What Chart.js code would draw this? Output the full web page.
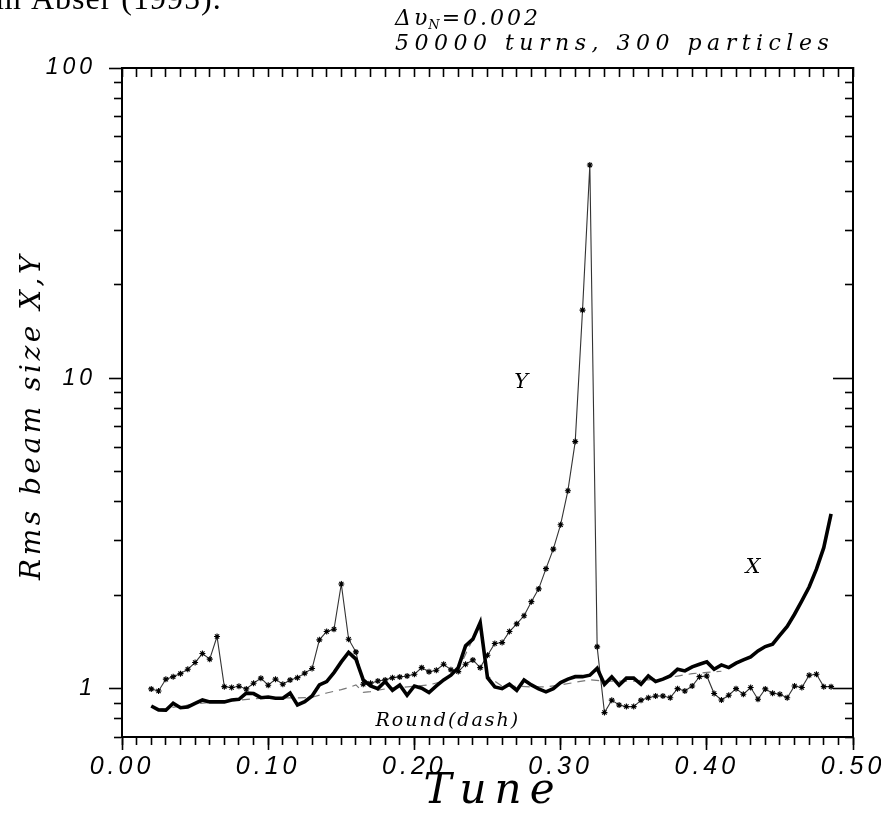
<!DOCTYPE html>
<html><head><meta charset="utf-8">
<script src="https://cdn.jsdelivr.net/npm/chart.js@4"></script>
<style>html,body{margin:0;padding:0;background:#fff;}canvas{display:block;}</style>
</head><body>
<canvas id="c" width="881" height="813"></canvas>
<script>
// ---------- data ----------
const tune = [0.020,0.025,0.030,0.035,0.040,0.045,0.050,0.055,0.060,0.065,
 0.070,0.075,0.080,0.085,0.090,0.095,0.100,0.105,0.110,0.115,
 0.120,0.125,0.130,0.135,0.140,0.145,0.150,0.155,0.160,0.165,
 0.170,0.175,0.180,0.185,0.190,0.195,0.200,0.205,0.210,0.215,
 0.220,0.225,0.230,0.235,0.240,0.245,0.250,0.255,0.260,0.265,
 0.270,0.275,0.280,0.285,0.290,0.295,0.300,0.305,0.310,0.315,
 0.320,0.325,0.330,0.335,0.340,0.345,0.350,0.355,0.360,0.365,
 0.370,0.375,0.380,0.385,0.390,0.395,0.400,0.405,0.410,0.415,
 0.420,0.425,0.430,0.435,0.440,0.445,0.450,0.455,0.460,0.465,
 0.470,0.475,0.480,0.485];
const sizeY = [1.00,0.985,1.075,1.095,1.12,1.157,1.216,1.30,1.247,1.475,
 1.017,1.01,1.02,1.00,1.043,1.083,1.028,1.075,1.035,1.069,
 1.087,1.124,1.163,1.439,1.531,1.557,2.177,1.446,1.316,1.035,
 1.043,1.061,1.069,1.087,1.093,1.101,1.115,1.171,1.135,1.149,
 1.201,1.152,1.137,1.201,1.24,1.171,1.284,1.40,1.41,1.53,
 1.62,1.72,1.91,2.10,2.44,2.82,3.38,4.35,6.26,16.6,
 48.7,1.366,0.839,0.92,0.888,0.877,0.877,0.92,0.937,0.949,
 0.949,0.937,1.002,0.985,1.022,1.095,1.101,0.966,0.921,0.954,
 1.002,0.961,1.01,0.926,1.00,0.969,0.961,0.937,1.022,1.01,
 1.107,1.115,1.017,1.017];
const sizeX = [0.881,0.856,0.854,0.899,0.870,0.875,0.899,0.921,0.908,0.908,
 0.908,0.921,0.926,0.969,0.966,0.937,0.942,0.933,0.933,0.969,
 0.888,0.910,0.949,1.030,1.056,1.129,1.222,1.310,1.247,1.069,
 1.022,1.002,1.056,0.990,1.030,0.954,1.022,1.005,0.973,1.022,
 1.069,1.107,1.171,1.376,1.446,1.636,1.087,1.015,1.002,1.035,
 0.990,1.069,1.030,1.000,0.978,1.002,1.048,1.075,1.095,1.095,
 1.107,1.166,1.035,1.093,1.028,1.083,1.083,1.035,1.101,1.056,
 1.075,1.101,1.157,1.143,1.177,1.201,1.222,1.157,1.195,1.171,
 1.210,1.240,1.268,1.326,1.369,1.393,1.49,1.59,1.74,1.92,
 2.13,2.43,2.85,3.66];
const roundTune = [0.025,0.03,0.04,0.05,0.06,0.07,0.08,0.09,0.10,0.11,0.12,0.13,0.14,0.15,0.155,0.16,0.165,0.17,0.18,0.19,0.20,0.21,0.22,0.23,0.24,0.245,0.25,0.26,0.27,0.28,0.29,0.30,0.31,0.32,0.33,0.34,0.35,0.36,0.37,0.38,0.39,0.40,0.41];
const roundSize = [0.86,0.865,0.88,0.895,0.905,0.91,0.92,0.93,0.935,0.935,0.935,0.94,0.97,0.995,1.01,1.03,0.975,0.98,1.0,1.01,1.02,1.03,1.06,1.15,1.45,1.6,1.1,1.02,1.02,1.015,1.015,1.03,1.05,1.07,1.06,1.06,1.06,1.07,1.08,1.1,1.12,1.13,1.14];
const xMajorTicks = [0, 0.1, 0.2, 0.3, 0.4, 0.5];
const xMinorTicks = [0,0.01,0.02,0.03,0.04,0.05,0.06,0.07,0.08,0.09,0.1,0.11,0.12,0.13,0.14,0.15,0.16,0.17,0.18,0.19,0.2,0.21,0.22,0.23,0.24,0.25,0.26,0.27,0.28,0.29,0.3,0.31,0.32,0.33,0.34,0.35,0.36,0.37,0.38,0.39,0.4,0.41,0.42,0.43,0.44,0.45,0.46,0.47,0.48,0.49,0.5];
const yMajorTicks = [1, 10, 100];
const yMinorTicks = [0.7,0.8,0.9,2,3,4,5,6,7,8,9,20,30,40,50,60,70,80,90];
const yMinorLabels = ['7','8','9','2','3','4','5','6','7','8','9','2','3','4','5','6','7','8','9'];

// ---------- helpers ----------
const pts = (xs, ys) => xs.map((x, i) => ({x, y: ys[i]}));
const setTicks = list => s => { s.ticks = list.map(v => ({value: v})); };
const fixW = w => s => { s.width = w; };
const fixH = h => s => { s.height = h; };
const noGridArea = (len, extra) => Object.assign({drawOnChartArea:false, drawTicks:true, tickLength:len, tickWidth:1.6, tickColor:'#000'}, extra||{});
const border = on => ({display:on, width:2, color:'#000'});

function spacedText(ctx, txt, x, y, font, spacing, align) {
  ctx.font = font;
  ctx.letterSpacing = spacing + 'px';
  ctx.textAlign = align || 'left';
  ctx.fillText(txt, x, y);
}

const textPlugin = {
  id: 'texts',
  beforeDraw(chart) { chart.ctx.letterSpacing = '4px'; },
  beforeDatasetsDraw(chart) { chart.ctx.letterSpacing = '0px'; },
  afterDraw(chart) {
    const ctx = chart.ctx, sx = chart.scales.x, sy = chart.scales.y;
    ctx.save();
    ctx.fillStyle = '#000';
    ctx.textBaseline = 'alphabetic';
    // cut-off text at very top (from the page above)
    spacedText(ctx, 'm Abser (1995).', -4, 9, '32px "Liberation Serif"', 1, 'left');
    // top annotations
    const f1 = 'italic 22px "DejaVu Serif"';
    ctx.font = f1; ctx.letterSpacing = '3px'; ctx.textAlign = 'left';
    let x0 = 395, yb = 25;
    ctx.fillText('\u0394\u03C5', x0, yb);
    let w = ctx.measureText('\u0394\u03C5').width;
    ctx.font = 'italic 13px "DejaVu Serif"';
    ctx.fillText('N', x0 + w - 2, yb + 4);
    let w2 = ctx.measureText('N').width;
    ctx.font = f1;
    ctx.fillText('=0.002', x0 + w + w2 - 3, yb);
    spacedText(ctx, '50000 turns, 300 particles', x0, 50, f1, 5.5, 'left');
    // curve labels placed in data coordinates
    ctx.textBaseline = 'middle';
    spacedText(ctx, 'Y', sx.getPixelForValue(0.273), sy.getPixelForValue(9.7), 'italic 21px "DejaVu Serif"', 0, 'center');
    spacedText(ctx, 'X', sx.getPixelForValue(0.4316), sy.getPixelForValue(2.46), 'italic 21px "DejaVu Serif"', 0, 'center');
    spacedText(ctx, 'Round(dash)', sx.getPixelForValue(0.1734), sy.getPixelForValue(0.789), 'italic 19px "DejaVu Serif"', 2, 'left');
    // axis titles
    spacedText(ctx, 'Tune', 493, 792, 'italic 42px "DejaVu Serif"', 8, 'center');
    ctx.save();
    ctx.translate(33, 416);
    ctx.rotate(-Math.PI / 2);
    spacedText(ctx, 'Rms beam size X,Y', 0, 0, 'italic 28px "DejaVu Serif"', 3.5, 'center');
    ctx.restore();
    ctx.restore();
  }
};

new Chart(document.getElementById('c'), {
  type: 'line',
  data: {
    datasets: [
      { label: 'X', data: pts(tune, sizeX), borderColor: '#000', borderWidth: 3.6, pointRadius: 0, tension: 0,
        xAxisID: 'x', yAxisID: 'y' },
      { label: 'Y', data: pts(tune, sizeY), borderColor: '#333', borderWidth: 1.1, pointStyle: 'star', pointRadius: 3,
        pointBorderColor: '#000', pointBorderWidth: 1.1, pointBackgroundColor: '#000', tension: 0, xAxisID: 'x', yAxisID: 'y' },
      { label: 'Round', data: pts(roundTune, roundSize), borderColor: '#777', borderWidth: 1.2, borderDash: [8, 6],
        pointRadius: 0, tension: 0, xAxisID: 'x', yAxisID: 'y' }
    ]
  },
  options: {
    responsive: false, animation: false, devicePixelRatio: 1,
    layout: { padding: 0 },
    plugins: { legend: { display: false }, tooltip: { enabled: false } },
    scales: {
      x: { type: 'linear', position: 'bottom', weight: 0, min: 0, max: 0.5,
        afterBuildTicks: setTicks(xMinorTicks), afterFit: fixH(0),
        ticks: { display: false }, grid: noGridArea(8), border: border(true) },
      xMajor: { type: 'linear', position: 'bottom', weight: 1, min: 0, max: 0.5,
        afterBuildTicks: setTicks(xMajorTicks), afterFit: fixH(76),
        ticks: { autoSkip: false, maxRotation: 0, padding: 2, color: '#000',
          font: { family: '"Liberation Sans"', style: 'italic', size: 25 },
          callback: v => Number(v).toFixed(2) },
        grid: noGridArea(13), border: border(false) },
      xTop: { type: 'linear', position: 'top', weight: 0, min: 0, max: 0.5,
        afterBuildTicks: setTicks(xMinorTicks), afterFit: fixH(68),
        ticks: { display: false }, grid: noGridArea(-9), border: border(true) },
      y: { type: 'logarithmic', position: 'left', weight: 0, min: 0.7, max: 100,
        afterBuildTicks: setTicks(yMinorTicks), afterFit: fixW(0),
        ticks: { autoSkip: false, padding: 1, color: '#000',
          font: { family: '"Liberation Sans"', style: 'italic', weight: 'bold', size: 11 },
          callback: (v, i) => yMinorLabels[i] },
        grid: noGridArea(8), border: border(true) },
      yMajor: { type: 'logarithmic', position: 'left', weight: 1, min: 0.7, max: 100,
        afterBuildTicks: setTicks(yMajorTicks), afterFit: fixW(122),
        ticks: { autoSkip: false, padding: 13, color: '#000',
          font: { family: '"Liberation Sans"', style: 'italic', size: 23 },
          callback: v => String(v) },
        grid: noGridArea(13), border: border(false) },
      yR: { type: 'logarithmic', position: 'right', weight: 0, min: 0.7, max: 100,
        afterBuildTicks: setTicks(yMinorTicks), afterFit: fixW(0),
        ticks: { display: false }, grid: noGridArea(-8), border: border(true) },
      yRMajor: { type: 'logarithmic', position: 'right', weight: 1, min: 0.7, max: 100,
        afterBuildTicks: setTicks([1, 10]), afterFit: fixW(28),
        ticks: { display: false }, grid: noGridArea(-20), border: border(false) }
    }
  },
  plugins: [textPlugin]
});
</script>
</body></html>
